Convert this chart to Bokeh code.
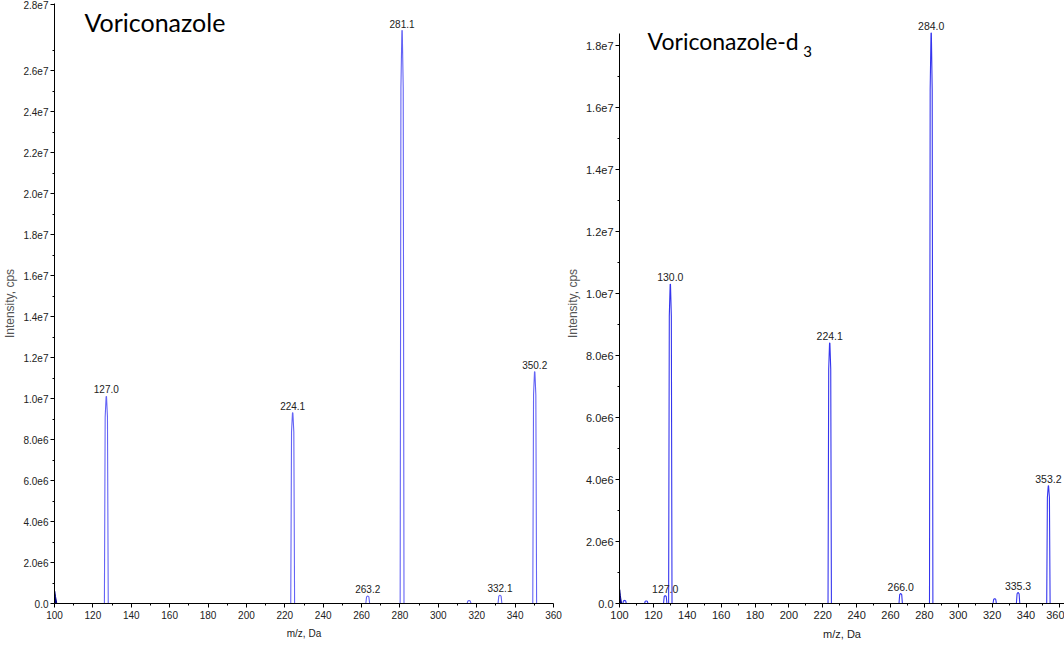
from bokeh.plotting import figure
from bokeh.models import ColumnDataSource, FixedTicker, Label, LabelSet, Range1d
from bokeh.layouts import row
from bokeh.core.properties import value
from bokeh.embed import file_html
from bokeh.resources import INLINE

# ---------------- data ----------------
# Left panel: Voriconazole
left_title = "Voriconazole"
left_mz = [127.0, 224.1, 263.2, 281.1, 316.0, 332.1, 350.2]
left_int = [1.01e7, 9.3e6, 3.6e5, 2.795e7, 1.4e5, 4.0e5, 1.13e7]
left_labels = ["127.0", "224.1", "263.2", "281.1", "", "332.1", "350.2"]
left_start_mz = [100.0, 100.1, 100.5, 101.2]
left_start_int = [0.0, 6.0e5, 3.5e5, 0.0]
left_yticks = [0, 2000000, 4000000, 6000000, 8000000, 10000000, 12000000, 14000000,
               16000000, 18000000, 20000000, 22000000, 24000000, 26000000, 29200000]
left_ytick_labels = ["0.0", "2.0e6", "4.0e6", "6.0e6", "8.0e6", "1.0e7", "1.2e7", "1.4e7",
                     "1.6e7", "1.8e7", "2.0e7", "2.2e7", "2.4e7", "2.6e7", "2.8e7"]

# Right panel: Voriconazole-d3
right_title = "Voriconazole-d"
right_title_sub = "3"
right_mz = [103.0, 115.8, 127.0, 130.0, 224.1, 266.0, 284.0, 321.5, 335.3, 353.2]
right_int = [1.0e5, 8.0e4, 2.5e5, 1.03e7, 8.4e6, 3.2e5, 1.84e7, 1.5e5, 3.5e5, 3.8e6]
right_labels = ["", "", "127.0", "130.0", "224.1", "266.0", "284.0", "", "335.3", "353.2"]
right_start_mz = [100.0, 100.1, 100.5, 101.2]
right_start_int = [0.0, 4.5e5, 2.5e5, 0.0]
right_yticks = [0, 2000000, 4000000, 6000000, 8000000, 10000000, 12000000, 14000000,
                16000000, 18000000]
right_ytick_labels = ["0.0", "2.0e6", "4.0e6", "6.0e6", "8.0e6", "1.0e7", "1.2e7", "1.4e7",
                      "1.6e7", "1.8e7"]

x_ticks = [100, 120, 140, 160, 180, 200, 220, 240, 260, 280, 300, 320, 340, 360]
x_minor = [110, 130, 150, 170, 190, 210, 230, 250, 270, 290, 310, 330, 350, 370]

TICK_FONT = "Liberation Sans"


def profile(mz, inten, hw=1.0):
    xs, ys = [], []
    for m, h in zip(mz, inten):
        xs.append([m - hw, m - hw * 0.6, m - hw * 0.1, m + hw * 0.1, m + hw * 0.6, m + hw])
        ys.append([0.0, 0.9 * h, h, h, 0.9 * h, 0.0])
    return xs, ys


def make_panel(width, border_left, border_right, x_end, y_end, y_axis_end,
               mz, inten, labels, start_mz, start_int, yticks, ytick_labels,
               peak_color, tick_size, label_size):
    p = figure(width=width, height=645, output_backend="svg", toolbar_location=None,
               x_range=Range1d(100, x_end), y_range=Range1d(0, y_end),
               min_border_left=border_left, min_border_right=border_right,
               min_border_top=3, min_border_bottom=42)
    p.outline_line_color = None
    p.xgrid.visible = False
    p.ygrid.visible = False
    p.background_fill_color = "white"
    p.border_fill_color = "white"

    xs, ys = profile(mz, inten)
    p.multi_line(xs, ys, line_color=peak_color, line_width=1.1)
    p.patch(start_mz, start_int, fill_color="#000080", line_color="#000080")

    src = ColumnDataSource(dict(x=[m for m, l in zip(mz, labels) if l],
                                y=[h for h, l in zip(inten, labels) if l],
                                t=[l for l in labels if l]))
    p.add_layout(LabelSet(x="x", y="y", text="t", source=src, text_align="center",
                          text_baseline="bottom", y_offset=3,
                          text_font=value(TICK_FONT),
                          text_font_size=value(label_size),
                          text_color="#222222"))

    for ax in (p.xaxis[0], p.yaxis[0]):
        ax.axis_line_color = "black"
        ax.major_tick_line_color = "black"
        ax.minor_tick_line_color = "black"
        ax.major_tick_in = 0
        ax.major_tick_out = 4
        ax.minor_tick_in = 0
        ax.minor_tick_out = 2
        ax.major_label_text_font = TICK_FONT
        ax.major_label_text_font_size = tick_size
        ax.major_label_text_color = "#222222"

    p.xaxis.ticker = FixedTicker(ticks=x_ticks, minor_ticks=x_minor)
    p.xaxis.axis_label = "m/z, Da"
    p.xaxis.axis_label_text_font = TICK_FONT
    p.xaxis.axis_label_text_font_size = tick_size
    p.xaxis.axis_label_text_font_style = "normal"
    p.xaxis.axis_label_text_color = "#222222"
    p.xaxis.axis_label_standoff = 6
    p.xaxis.major_label_standoff = 3

    minor = [t + 1000000 for t in yticks[:-1]]
    p.yaxis.ticker = FixedTicker(ticks=yticks, minor_ticks=minor)
    p.yaxis.major_label_overrides = {t: l for t, l in zip(yticks, ytick_labels)}
    p.yaxis.bounds = (0, y_axis_end)
    p.yaxis.axis_label = "Intensity, cps"
    p.yaxis.axis_label_text_font = "Liberation Sans"
    p.yaxis.axis_label_text_font_size = "12px"
    p.yaxis.axis_label_text_font_style = "normal"
    p.yaxis.axis_label_text_color = "#555555"
    p.yaxis.axis_label_standoff = 3
    p.yaxis.major_label_standoff = 2
    return p


p1 = make_panel(562, 52, 9, 360, 2.927e7, 2.927e7, left_mz, left_int, left_labels,
                left_start_mz, left_start_int, left_yticks, left_ytick_labels,
                "#6464f5", "10px", "10px")
p1.add_layout(Label(x=115.6, y=2.839e7, text=left_title, text_font="Lato",
                    text_font_size="25px", text_baseline="middle", text_color="black"))

p2 = make_panel(502, 52, 0, 362.7, 1.9355e7, 1.839e7, right_mz, right_int, right_labels,
                right_start_mz, right_start_int, right_yticks, right_ytick_labels,
                "#3535ee", "11px", "10.5px")
p2.add_layout(Label(x=116.6, y=1.816e7, text=right_title, text_font="Lato",
                    text_font_size="23px", text_baseline="middle", text_color="black"))
p2.add_layout(Label(x=208.5, y=1.782e7, text=right_title_sub, text_font="Lato",
                    text_font_size="15px", text_baseline="middle", text_color="black"))

layout = row(p1, p2)
open("out.html", "w").write(file_html(layout, INLINE))
